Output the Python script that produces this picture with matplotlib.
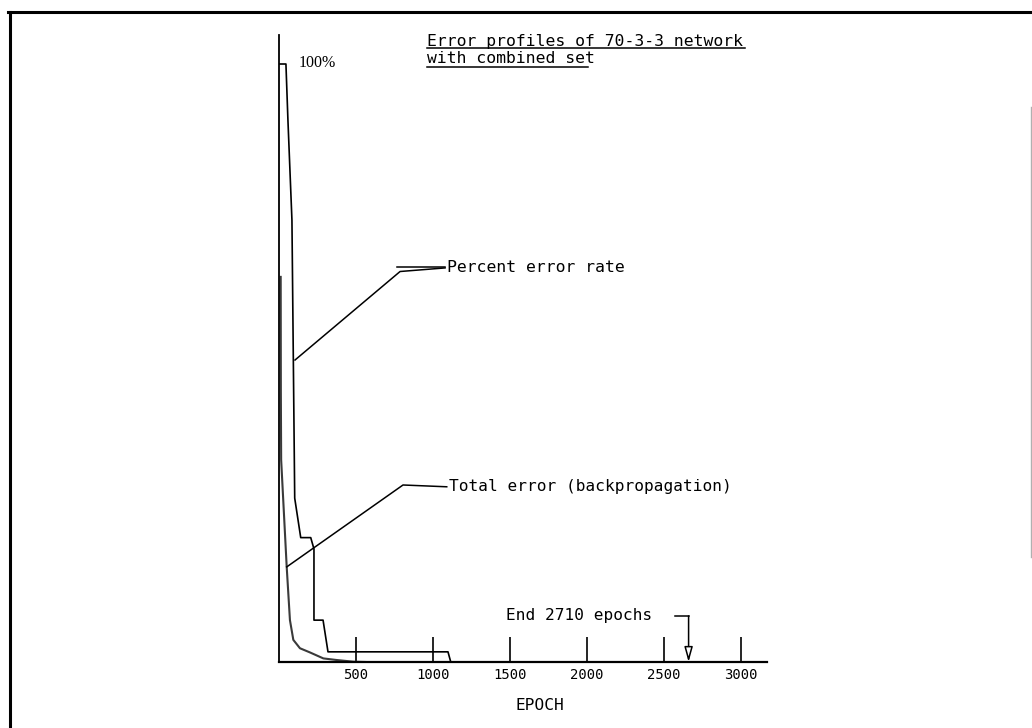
import matplotlib
matplotlib.use("Agg")
import matplotlib.pyplot as plt
from matplotlib.lines import Line2D

# data (epoch, % of full scale)
pct_epoch = [0, 45, 58, 84, 102, 141, 206, 227, 227, 286, 318, 1097, 1115]
pct_value = [100, 100, 90.6, 73.9, 27.4, 20.8, 20.8, 18.9, 7.0, 7.0, 1.7, 1.7, 0]

tot_epoch = [11, 12, 14, 50, 71, 93, 136, 201, 288, 375, 483, 560]
tot_value = [64.4, 45.0, 33.8, 15.9, 7.0, 3.7, 2.3, 1.6, 0.6, 0.33, 0.05, 0]

xticks = [500, 1000, 1500, 2000, 2500, 3000]
end_epoch = 2659

mono = "DejaVu Sans Mono"

fig = plt.figure(figsize=(10.32, 7.28), dpi=100)
ax = fig.add_axes([279 / 1032, 66 / 728, 488 / 1032, 627 / 728])
ax.set_xlim(0, 3168)
ax.set_ylim(0, 104.85)

ax.plot(pct_epoch, pct_value, color="black", lw=1.2)
ax.plot(tot_epoch, tot_value, color="#3a3a3a", lw=1.5)

for s in ["top", "right"]:
    ax.spines[s].set_visible(False)
ax.spines["left"].set_linewidth(1.3)
ax.spines["bottom"].set_linewidth(1.6)
ax.set_yticks([])
ax.set_xticks(xticks)
ax.set_xticklabels([str(t) for t in xticks], fontfamily=mono, fontsize=10)
ax.tick_params(axis="x", direction="in", length=18, width=1.2, pad=4)

# labels / leaders
ax.text(130, 100.2, "100%", family="Liberation Serif", fontsize=11.5, va="center", ha="left")

ax.plot([104, 786, 1078], [50.5, 65.3, 65.9], color="black", lw=1.1)
ax.plot([764, 1078], [66.1, 66.1], color="black", lw=1.1)
ax.text(1090, 65.9, "Percent error rate", family=mono, fontsize=11.8, va="center", ha="left")

ax.plot([50, 805, 1089], [15.9, 29.6, 29.3], color="black", lw=1.1)
ax.text(1104, 29.3, "Total error (backpropagation)", family=mono, fontsize=11.6, va="center", ha="left")

ax.text(960, 103.7, "Error profiles of 70-3-3 network", family=mono, fontsize=11.8,
        va="center", ha="left", clip_on=False)
ax.text(960, 100.9, "with combined set", family=mono, fontsize=11.8,
        va="center", ha="left", clip_on=False)
ax.plot([960, 3026], [102.6, 102.6], color="black", lw=1.1, clip_on=False)
ax.plot([960, 2006], [99.55, 99.55], color="black", lw=1.1, clip_on=False)

ax.text(1475, 7.85, "End 2710 epochs", family=mono, fontsize=11.6, va="center", ha="left")
ax.plot([2571, end_epoch], [7.7, 7.7], color="black", lw=1.1)
ax.annotate("", xy=(end_epoch, 0), xytext=(end_epoch, 7.7),
            arrowprops=dict(arrowstyle="-|>,head_length=0.9,head_width=0.25",
                            fc="white", ec="black", lw=1.1, shrinkA=0, shrinkB=0))

ax.text(1695, -7.2, "EPOCH", family=mono, fontsize=11.6, va="center", ha="center", clip_on=False)

# scanned page frame
fig.add_artist(Line2D([8 / 1032, 1], [716.3 / 728] * 2, color="black", lw=2.2))
fig.add_artist(Line2D([10 / 1032] * 2, [0, 716.3 / 728], color="black", lw=2.2))
fig.add_artist(Line2D([1030.5 / 1032] * 2, [171 / 728, 621 / 728], color="#b0b0b0", lw=1.0))

plt.savefig("out.png", dpi=100)
